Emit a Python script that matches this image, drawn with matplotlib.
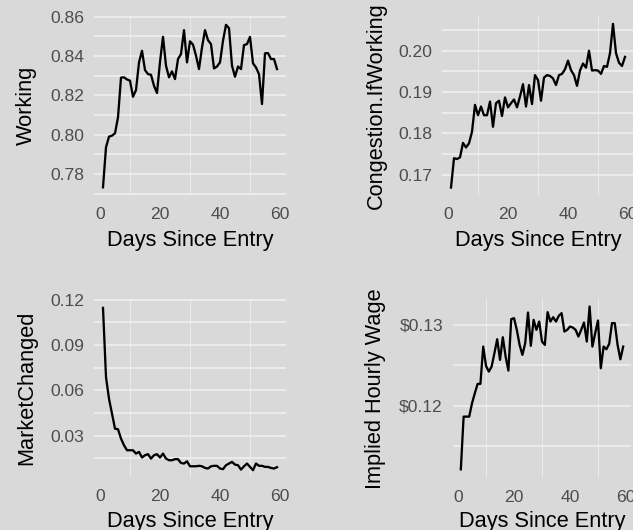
"""
plot.py

Four panel summary of worker behaviour by days since entry:
share working, congestion if working, market changed and the
implied hourly wage. Grey ggplot-like look.
"""
import matplotlib
matplotlib.use('Agg')
import matplotlib.pyplot as plt
from matplotlib.ticker import FixedLocator, FuncFormatter

days = list(range(1, 60))

working = [
    0.7732, 0.7936, 0.7990, 0.7995, 0.8007, 0.8088, 0.8290, 0.8292, 0.8281, 0.8275,
    0.8193, 0.8227, 0.8368, 0.8427, 0.8329, 0.8308, 0.8305, 0.8249, 0.8212, 0.8370,
    0.8498, 0.8351, 0.8292, 0.8322, 0.8283, 0.8385, 0.8410, 0.8532, 0.8368, 0.8475,
    0.8458, 0.8402, 0.8334, 0.8444, 0.8532, 0.8481, 0.8461, 0.8337, 0.8347, 0.8368,
    0.8478, 0.8559, 0.8542, 0.8351, 0.8295, 0.8347, 0.8334, 0.8456, 0.8461, 0.8498,
    0.8363, 0.8342, 0.8308, 0.8156, 0.8414, 0.8415, 0.8385, 0.8385, 0.8334,
]

congestion = [
    0.1669, 0.1740, 0.1738, 0.1742, 0.1777, 0.1766, 0.1776, 0.1804, 0.1869, 0.1844,
    0.1865, 0.1844, 0.1844, 0.1877, 0.1816, 0.1873, 0.1879, 0.1842, 0.1887, 0.1863,
    0.1873, 0.1882, 0.1863, 0.1889, 0.1919, 0.1865, 0.1917, 0.1871, 0.1941, 0.1929,
    0.1879, 0.1935, 0.1941, 0.1939, 0.1933, 0.1917, 0.1941, 0.1944, 0.1955, 0.1976,
    0.1953, 0.1941, 0.1915, 0.1952, 0.1969, 0.1959, 0.2000, 0.1952, 0.1953, 0.1952,
    0.1944, 0.1963, 0.1961, 0.1994, 0.2065, 0.1994, 0.1971, 0.1963, 0.1985,
]

market_changed = [
    0.1145, 0.0687, 0.0544, 0.0445, 0.0346, 0.0342, 0.0280, 0.0236, 0.0203, 0.0203,
    0.0203, 0.0181, 0.0192, 0.0155, 0.0170, 0.0177, 0.0148, 0.0170, 0.0177, 0.0155,
    0.0181, 0.0148, 0.0137, 0.0137, 0.0144, 0.0144, 0.0119, 0.0115, 0.0130, 0.0097,
    0.0097, 0.0097, 0.0100, 0.0097, 0.0086, 0.0082, 0.0097, 0.0100, 0.0100, 0.0082,
    0.0078, 0.0104, 0.0115, 0.0126, 0.0108, 0.0104, 0.0075, 0.0097, 0.0115, 0.0093,
    0.0071, 0.0115, 0.0100, 0.0100, 0.0093, 0.0093, 0.0086, 0.0082, 0.0091,
]

hourly_wage = [
    0.11211, 0.11864, 0.11864, 0.11864, 0.12029, 0.12153, 0.12269, 0.12269, 0.12731, 0.12492,
    0.12421, 0.12483, 0.12649, 0.12822, 0.12566, 0.12847, 0.12607, 0.12434, 0.13070, 0.13083,
    0.12938, 0.12752, 0.12628, 0.12773, 0.13153, 0.12740, 0.13062, 0.12938, 0.13041, 0.12793,
    0.12752, 0.13157, 0.13041, 0.13095, 0.13041, 0.13112, 0.13145, 0.12917, 0.12938, 0.12979,
    0.12967, 0.12938, 0.12855, 0.12938, 0.13029, 0.12793, 0.13227, 0.12731, 0.12897, 0.13054,
    0.12463, 0.12731, 0.12698, 0.12764, 0.13021, 0.13021, 0.12752, 0.12574, 0.12731,
]

x_ticks = [0, 20, 40, 60]
x_grid = [10, 30, 50]

BG = '#D9D9D9'
FIG_W, FIG_H = 633, 530

plt.rcParams['font.family'] = ['Liberation Sans', 'DejaVu Sans']


def px_axes(fig, left, top, right, bottom):
    # panel box given in pixels from the top-left corner
    return fig.add_axes([left / FIG_W, 1 - bottom / FIG_H,
                         (right - left) / FIG_W, (bottom - top) / FIG_H])


def _panel(ax, y, ylabel, ylim, y_major, y_minor, fmt, ylab_x, xlab_gap=35.0):
    ax.set_facecolor(BG)
    for s in ax.spines.values():
        s.set_visible(False)
    ax.plot(days, y, color='black', lw=1.65, zorder=3)
    ax.set_xlim(-1.9, 61.9)
    ax.set_ylim(*ylim)
    ax.xaxis.set_major_locator(FixedLocator(x_ticks))
    ax.xaxis.set_minor_locator(FixedLocator(x_grid))
    ax.yaxis.set_major_locator(FixedLocator(y_major))
    ax.yaxis.set_minor_locator(FixedLocator(y_minor))
    ax.yaxis.set_major_formatter(FuncFormatter(fmt))
    ax.grid(axis='y', which='both', color='#EFEFEF', lw=1.2)
    ax.grid(axis='x', which='minor', color='#EBEBEB', lw=0.8)
    ax.grid(axis='x', which='major', visible=False)
    ax.tick_params(which='both', length=0, labelsize=12.6, labelcolor='#4D4D4D')
    ax.tick_params(axis='x', pad=8.4)
    ax.tick_params(axis='y', pad=7)
    ax.set_axisbelow(True)

    ax.set_xlabel('Days Since Entry', fontsize=15.7, color='black', va='top')
    ax.xaxis.set_label_coords(0.5, -xlab_gap / (ax.bbox.height))
    ax.set_ylabel(ylabel, fontsize=15.7, color='black', va='center')
    ax.yaxis.set_label_coords(ylab_x, 0.5)


def main():
    fig = plt.figure(figsize=(6.33, 5.30), dpi=100, facecolor=BG)

    ax1 = px_axes(fig, 94.3, 16, 285.7, 195)
    ax2 = px_axes(fig, 442.3, 16, 633.7, 195)
    ax3 = px_axes(fig, 94.3, 299, 285.7, 477)
    ax4 = px_axes(fig, 452.7, 299, 631.3, 478)

    two = lambda v, p: '%.2f' % v
    _panel(ax1, working, 'Working', (0.7693, 0.8604),
           [0.78, 0.80, 0.82, 0.84, 0.86], [0.77, 0.79, 0.81, 0.83, 0.85],
           two, (26.5 - 94.3) / 191.4)
    _panel(ax2, congestion, 'Congestion.IfWorking', (0.1651, 0.2084),
           [0.17, 0.18, 0.19, 0.20], [0.165, 0.175, 0.185, 0.195, 0.205],
           two, (376.7 - 442.3) / 191.4)
    _panel(ax3, market_changed, 'MarketChanged', (0.0026, 0.1204),
           [0.03, 0.06, 0.09, 0.12], [0.015, 0.045, 0.075, 0.105],
           two, (26.7 - 94.3) / 191.4, xlab_gap=33.5)
    _panel(ax4, hourly_wage, 'Implied Hourly Wage', (0.11104, 0.1332),
           [0.12, 0.13], [0.115, 0.125],
           lambda v, p: '$%.2f' % v, (376.0 - 452.7) / 178.6, xlab_gap=33.5)

    fig.savefig('out.png', dpi=100, facecolor=BG)
    plt.close(fig)


if __name__ == '__main__':
    main()
